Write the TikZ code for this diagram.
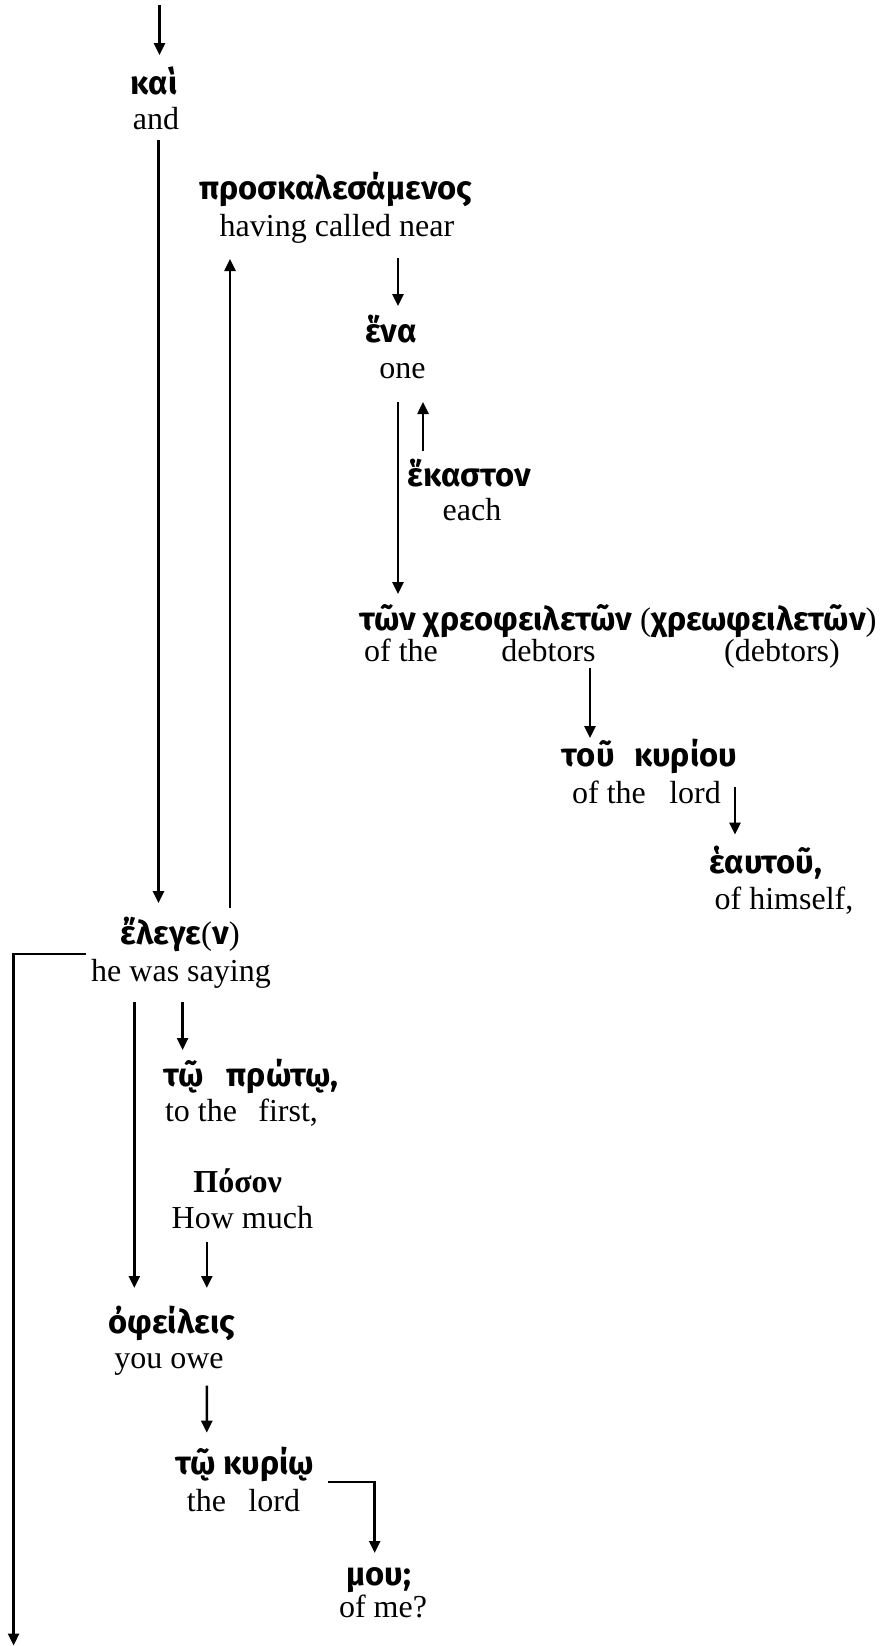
\documentclass[tikz,border=0pt]{standalone}
\usepackage{fontspec}
\setmainfont{Liberation Serif}
\newfontfamily\gkfont{Fira Sans}
\usetikzlibrary{arrows.meta}

\begin{document}
\begin{tikzpicture}[x=0.5pt,y=-0.5pt,
  en/.style={inner sep=0pt,anchor=base,font=\fontsize{16}{19}\selectfont},
  gk/.style={inner sep=0pt,anchor=base,font=\fontsize{16.4}{19}\selectfont\gkfont\bfseries},
  gkserif/.style={inner sep=0pt,anchor=base,font=\fontsize{16}{19}\selectfont\bfseries},
  conn/.style={line width=1.25pt},
  arr/.style={conn,-{Triangle[width=5.5pt,length=6pt]}}]
\useasboundingbox (0,0) rectangle (889,1646);

% Greek words with their glosses
\node[gk] (kai)   at (154,94.5)   {καὶ};
\node[en] (kaiE)  at (156,129)    {and};
\node[gk] (pros)  at (336,199)    {προσκαλεσάμενος};
\node[en] (prosE) at (337,236)    {having called near};
\node[gk] (ena)   at (391,342)    {ἕνα};
\node[en] (enaE)  at (402.5,378)  {one};
\node[gk] (hek)   at (469.5,486)  {ἕκαστον};
\node[en] (hekE)  at (472,520.5)  {each};
\node[gk] (ton)   at (618,630)    {τῶν χρεοφειλετῶν {\rmfamily\mdseries(}χρεωφειλετῶν{\rmfamily\mdseries)}};
\node[en] (tonEa) at (401,661)    {of the};
\node[en] (tonEb) at (548.5,661)  {debtors};
\node[en] (tonEc) at (782,661)    {(debtors)};
\node[gk] (tou)   at (649.5,766)  {τοῦ\hspace{0.6em}κυρίου};
\node[en] (touE)  at (646.5,803)  {of the\hspace{0.73em}lord};
\node[gk] (heau)  at (766,873)    {ἑαυτοῦ,};
\node[en] (heauE) at (784,909)    {of himself,};
\node[gk] (eleg)  at (180,944.5)  {ἔλεγε{\rmfamily\mdseries(}ν{\rmfamily\mdseries)}};
\node[en] (elegE) at (181,981)    {he was saying};
\node[gk] (prot)  at (251,1086)   {τῷ\hspace{0.7em}πρώτῳ,};
\node[en] (protE) at (241.5,1121) {to the\hspace{0.67em}first,};
\node[gkserif] (poson) at (237.7,1192) {Πόσον};
\node[en] (posonE) at (242.4,1228) {How much};
\node[gk] (ofei)  at (171.6,1333) {ὀφείλεις};
\node[en] (ofeiE) at (169,1368.6) {you owe};
\node[gk] (kyr)   at (244.6,1474.7) {τῷ κυρίῳ};
\node[en] (kyrE)  at (243.5,1511.4) {the\hspace{0.7em}lord};
\node[gk] (mou)   at (379,1585)   {μου;};
\node[en] (mouE)  at (383,1617.5) {of me?};

% free ends of the entering and leaving lines
\coordinate (in)  at (159.5,5);
\coordinate (out) at (13.6,1645.5);

% connectors
\draw[arr] (in) -- ([shift={(5.5,-39.5)}]kai.base);
\draw[arr] ([shift={(2.5,11)}]kaiE.base) -- ([shift={(-21.5,-41.5)}]eleg.base);
\draw[arr] ([shift={(50,-36.5)}]eleg.base) -- ([shift={(-107,23)}]prosE.base);
\draw[arr] ([shift={(61,22)}]prosE.base) -- ([shift={(7,-36)}]ena.base);
\draw[arr] ([shift={(-4.5,24)}]enaE.base) -- ([shift={(-220,-36)}]ton.base);
\draw[arr] ([shift={(-46.5,-35)}]hek.base) -- ([shift={(20.5,24)}]enaE.base);
\draw[arr] ([shift={(41.5,6.5)}]tonEb.base) -- ([shift={(-59.5,-28)}]tou.base);
\draw[arr] ([shift={(88.5,-16)}]touE.base) -- ([shift={(-31,-38.5)}]heau.base);
\draw[arr] ([shift={(-46.7,21)}]elegE.base) -- ([shift={(-37.3,-45)}]ofei.base);
\draw[arr] ([shift={(1.6,21)}]elegE.base) -- ([shift={(-68.4,-36)}]prot.base);
\draw[arr] ([shift={(-35.6,13.5)}]posonE.base) -- ([shift={(35.2,-45)}]ofei.base);
\draw[arr] ([shift={(37.8,17)}]ofeiE.base) -- ([shift={(-37.8,-42)}]kyr.base);
\draw[arr] ([shift={(84,-29.4)}]kyrE.base) -| ([shift={(-4.3,-32)}]mou.base);
\draw[arr] ([shift={(-95,-27)}]elegE.base) -| (out);
\end{tikzpicture}
\end{document}
